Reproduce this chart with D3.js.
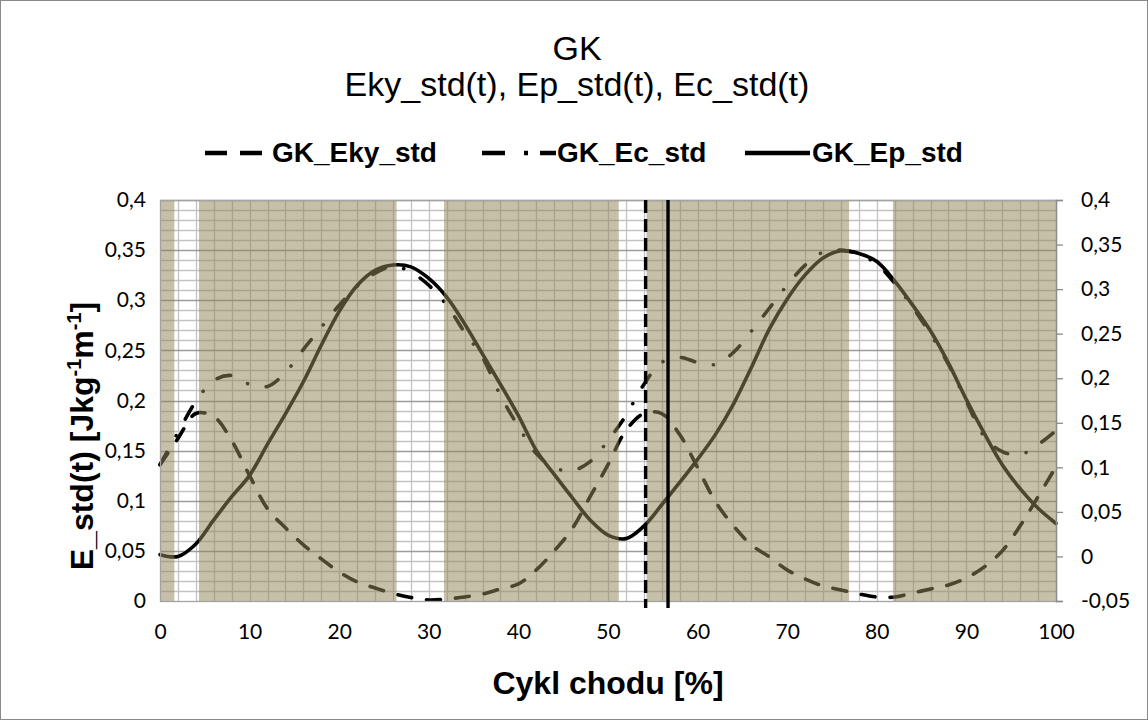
<!DOCTYPE html>
<html>
<head>
<meta charset="utf-8">
<script src="https://d3js.org/d3.v7.min.js"></script>
<style>
  body { margin: 0; background: #fff; }
  svg { display: block; }
  text { font-family: 'Liberation Sans', Arial, sans-serif; fill: #000; }
  .ticks text { font-family: Lato, 'Liberation Sans', sans-serif; font-size: 21px; fill: #000; }
</style>
</head>
<body>
<script>
// gait cycle [%]
const cycle = [0, 2, 4, 6, 8, 10, 12, 14, 16, 18, 20, 22, 24, 26, 28, 30, 32, 34, 36, 38, 40,
               42, 44, 46, 48, 50, 52, 54, 56, 58, 60, 62, 64, 66, 68, 70, 72, 74, 76, 78, 80,
               82, 84, 86, 88, 90, 92, 94, 96, 98, 100];

// left axis
const ekyStd = [0.136, 0.162, 0.187, 0.184, 0.160, 0.125, 0.092, 0.073, 0.056, 0.042, 0.029,
                0.019, 0.013, 0.0075, 0.0035, 0.001, 0.002, 0.004, 0.007, 0.012, 0.017,
                0.031, 0.050, 0.072, 0.104, 0.136, 0.170, 0.187, 0.187, 0.166, 0.133,
                0.099, 0.075, 0.056, 0.044, 0.031, 0.022, 0.015, 0.011, 0.007, 0.004,
                0.004, 0.008, 0.012, 0.016, 0.023, 0.034, 0.050, 0.075, 0.104, 0.134];

// left axis
const ecStd = [0.136, 0.168, 0.199, 0.220, 0.225, 0.216, 0.214, 0.228, 0.251, 0.273, 0.295,
               0.314, 0.327, 0.334, 0.328, 0.315, 0.295, 0.268, 0.243, 0.205, 0.174,
               0.147, 0.133, 0.130, 0.139, 0.160, 0.185, 0.216, 0.238, 0.243, 0.238,
               0.236, 0.248, 0.269, 0.292, 0.315, 0.335, 0.348, 0.350, 0.346, 0.336,
               0.317, 0.293, 0.266, 0.236, 0.199, 0.164, 0.149, 0.146, 0.156, 0.170];

// right (secondary) axis
const epStd = [0.002, 0.000, 0.014, 0.041, 0.067, 0.091, 0.126, 0.160, 0.196, 0.237, 0.275,
               0.304, 0.321, 0.327, 0.325, 0.312, 0.291, 0.261, 0.227, 0.193, 0.158,
               0.119, 0.092, 0.066, 0.041, 0.024, 0.020, 0.034, 0.058, 0.083, 0.109,
               0.137, 0.171, 0.212, 0.255, 0.289, 0.316, 0.335, 0.343, 0.340, 0.331,
               0.309, 0.282, 0.253, 0.217, 0.176, 0.138, 0.103, 0.076, 0.054, 0.037];

// shaded phases of the cycle [%]
const phaseBands = [[0, 1.6], [4.35, 26.4], [31.7, 51.2], [54.3, 76.9], [81.8, 100]];
// event markers [%]: dashed, solid
const eventMarks = [54.2, 56.7];

const leftTicks = [0, 0.05, 0.1, 0.15, 0.2, 0.25, 0.3, 0.35, 0.4];
const rightTicks = [-0.05, 0, 0.05, 0.1, 0.15, 0.2, 0.25, 0.3, 0.35, 0.4];
const xTicks = [0, 10, 20, 30, 40, 50, 60, 70, 80, 90, 100];

const W = 1148, H = 720;
const m = {left: 160, right: 1056, top: 200, bottom: 601};
const comma = d => String(d).replace('.', ',');

const svg = d3.select('body').append('svg').attr('width', W).attr('height', H);
svg.append('rect').attr('x', 0.5).attr('y', 0.5).attr('width', W - 1).attr('height', H - 1)
   .attr('fill', '#fff').attr('stroke', '#8a8a8a');

const x = d3.scaleLinear().domain([0, 100]).range([m.left, m.right]);
const yL = d3.scaleLinear().domain([0, 0.4]).range([m.bottom, m.top]);
const yR = d3.scaleLinear().domain([-0.05, 0.4]).range([m.bottom, m.top]);
const px = v => Math.round(v) + 0.5;

// gridlines
const grid = svg.append('g');
grid.selectAll('line.v').data(x.ticks(50).filter(d => d > 0 && d < 100)).join('line')
  .attr('class', 'v')
  .attr('x1', d => px(x(d))).attr('x2', d => px(x(d)))
  .attr('y1', m.top).attr('y2', m.bottom)
  .attr('stroke', '#c2c2c2').attr('stroke-width', 1.3);
grid.selectAll('line.h').data(yL.ticks(40).filter(d => d > 0)).join('line')
  .attr('class', 'h')
  .attr('x1', m.left).attr('x2', m.right)
  .attr('y1', d => px(yL(d))).attr('y2', d => px(yL(d)))
  .attr('stroke', d => Math.abs(d * 20 - Math.round(d * 20)) < 1e-6 ? '#9c9c9c' : '#c2c2c2')
  .attr('stroke-width', 1.3);

// series
const lineL = d3.line().x((d, i) => x(cycle[i])).y(d => yL(d)).curve(d3.curveCatmullRom.alpha(0.5));
const lineR = d3.line().x((d, i) => x(cycle[i])).y(d => yR(d)).curve(d3.curveCatmullRom.alpha(0.5));

const series = svg.append('g').attr('fill', 'none').attr('stroke', '#000')
  .attr('stroke-width', 3.6).attr('stroke-linecap', 'round');
series.append('path').attr('d', lineR(epStd));
series.append('path').attr('d', lineL(ecStd)).attr('stroke-dasharray', '14,19,0.1,19');
series.append('path').attr('d', lineL(ekyStd)).attr('stroke-dasharray', '14,15');

// translucent phase columns over everything drawn so far
svg.append('g').selectAll('rect').data(phaseBands).join('rect')
  .attr('x', d => x(d[0])).attr('width', d => x(d[1]) - x(d[0]))
  .attr('y', m.top).attr('height', m.bottom - m.top)
  .attr('fill', 'rgb(146,135,90)').attr('fill-opacity', 0.52);

// plot frame
svg.append('rect').attr('x', m.left + 0.5).attr('y', m.top + 0.5)
  .attr('width', m.right - m.left).attr('height', m.bottom - m.top)
  .attr('fill', 'none').attr('stroke', '#a3a3a3').attr('stroke-width', 1.3);

// event markers
svg.append('g').selectAll('line').data(eventMarks).join('line')
  .attr('x1', d => x(d)).attr('x2', d => x(d))
  .attr('y1', m.top).attr('y2', m.bottom + 7)
  .attr('stroke', '#000').attr('stroke-width', 3.4)
  .attr('stroke-dasharray', (d, i) => i === 0 ? '13,6' : null);

// axes
const ax = svg.append('g').attr('class', 'ticks');
const leftAxis = ax.append('g').attr('transform', `translate(${m.left},0)`)
  .call(d3.axisLeft(yL).tickValues(leftTicks).tickFormat(comma).tickSize(0).tickPadding(14));
const rightAxis = ax.append('g').attr('transform', `translate(${m.right},0)`)
  .call(d3.axisRight(yR).tickValues(rightTicks).tickFormat(comma).tickSize(7).tickPadding(18));
const bottomAxis = ax.append('g').attr('transform', `translate(0,${m.bottom})`)
  .call(d3.axisBottom(x).tickValues(xTicks).tickSize(0).tickPadding(23));
leftAxis.select('.domain').remove();
bottomAxis.select('.domain').remove();
rightAxis.select('.domain').attr('stroke', '#8a8a8a').attr('stroke-width', 1.3);
rightAxis.selectAll('.tick line').attr('stroke', '#8a8a8a').attr('stroke-width', 1.3);
ax.selectAll('text').attr('font-family', null).attr('font-size', null);

// titles
svg.append('text').attr('x', 577).attr('y', 60).attr('text-anchor', 'middle')
  .attr('font-size', 34).text('GK');
svg.append('text').attr('x', 577).attr('y', 96).attr('text-anchor', 'middle')
  .attr('font-size', 34).text('Eky_std(t), Ep_std(t), Ec_std(t)');

svg.append('text').attr('x', 608).attr('y', 694).attr('text-anchor', 'middle')
  .attr('font-size', 32).attr('font-weight', 'bold').text('Cykl chodu [%]');

const yTitle = svg.append('text')
  .attr('transform', 'translate(93,436) rotate(-90)')
  .attr('text-anchor', 'middle').attr('font-size', 32).attr('font-weight', 'bold');
yTitle.append('tspan').text('E_std(t)   [Jkg');
yTitle.append('tspan').attr('font-size', 20).attr('dy', -12).text('-1');
yTitle.append('tspan').attr('dy', 12).text('m');
yTitle.append('tspan').attr('font-size', 20).attr('dy', -12).text('-1');
yTitle.append('tspan').attr('dy', 12).text(']');

// legend
const legendItems = [
  {name: 'GK_Eky_std', x0: 205, x1: 262, tx: 272, dash: '22,13'},
  {name: 'GK_Ec_std', x0: 482, x1: 556, tx: 557, dash: '23,19,4,12'},
  {name: 'GK_Ep_std', x0: 745, x1: 810, tx: 812, dash: null}
];
const lg = svg.append('g');
lg.selectAll('line').data(legendItems).join('line')
  .attr('x1', d => d.x0).attr('x2', d => d.x1).attr('y1', 153).attr('y2', 153)
  .attr('stroke', '#000').attr('stroke-width', 4.5)
  .attr('stroke-dasharray', d => d.dash);
lg.selectAll('text').data(legendItems).join('text')
  .attr('x', d => d.tx).attr('y', 162).attr('font-size', 28).attr('font-weight', 'bold')
  .text(d => d.name);
</script>
</body>
</html>
